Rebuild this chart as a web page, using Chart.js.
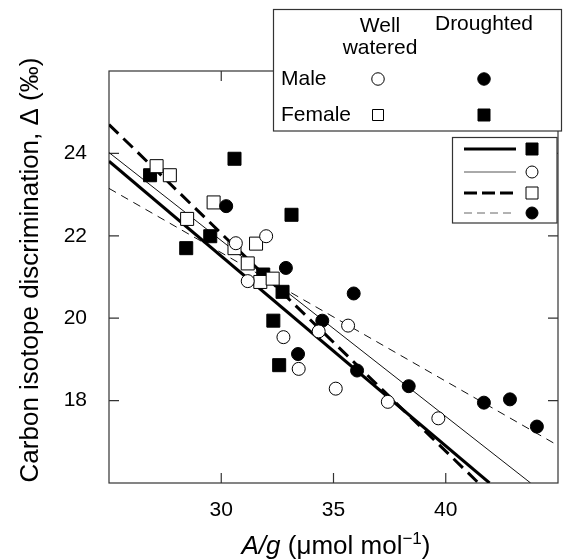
<!DOCTYPE html>
<html>
<head>
<meta charset="utf-8">
<script src="https://cdn.jsdelivr.net/npm/chart.js@4.4.0/dist/chart.umd.min.js"></script>
<style>
  body { margin: 0; background: #fff; }
  #wrap { width: 563px; height: 560px; }
</style>
</head>
<body>
<div id="wrap"><canvas id="chart" width="563" height="560"></canvas></div>
<script>
// values
const maleWellX = [30.65, 32.0, 31.18, 32.77, 34.34, 35.65, 33.45, 35.10, 37.42, 39.67];
const maleWellY = [21.82, 21.99, 20.90, 19.54, 19.68, 19.82, 18.77, 18.29, 17.97, 17.57];

const maleDroughtX = [30.22, 32.88, 35.90, 34.50, 33.42, 36.05, 38.35, 41.70, 42.86, 44.06];
const maleDroughtY = [22.72, 21.22, 20.60, 19.94, 19.13, 18.73, 18.35, 17.95, 18.03, 17.37];

const femaleWellX = [27.12, 27.71, 29.66, 28.48, 30.59, 31.55, 31.18, 31.74, 32.29];
const femaleWellY = [23.69, 23.47, 22.81, 22.41, 21.70, 21.81, 21.33, 20.88, 20.96];

const femaleDroughtX = [26.83, 30.59, 33.13, 29.51, 28.44, 31.87, 32.73, 32.32, 32.58];
const femaleDroughtY = [23.47, 23.87, 22.51, 21.99, 21.70, 21.06, 20.64, 19.94, 18.86];

// regression line end points
const fitFemaleDroughtX = [25, 41.95], fitFemaleDroughtY = [23.81, 16];
const fitMaleWellX = [25, 43.78], fitMaleWellY = [24.02, 16];
const fitFemaleWellX = [25, 41.46], fitFemaleWellY = [24.70, 16];
const fitMaleDroughtX = [25, 45], fitMaleDroughtY = [23.15, 16.91];

const xTicks = [30, 35, 40];
const yTicks = [18, 20, 22, 24];

const FONT = "'Liberation Sans', Arial, Helvetica, sans-serif";

const pts = (xs, ys) => xs.map((x, i) => ({ x: x, y: ys[i] }));

function pointSet(xs, ys, style, filled) {
  return {
    data: pts(xs, ys),
    pointStyle: style,
    pointRadius: style === 'rect' ? 9.2 : 6.5,
    pointBackgroundColor: filled ? '#000' : '#fff',
    pointBorderColor: '#000',
    pointBorderWidth: 1,
    showLine: false,
    order: 0
  };
}

function lineSet(xs, ys, width, dash, color) {
  return {
    data: pts(xs, ys),
    showLine: true,
    pointRadius: 0,
    borderColor: color,
    borderWidth: width,
    borderDash: dash,
    fill: false,
    order: 1
  };
}

function drawMarker(ctx, type, filled, x, y, size) {
  ctx.save();
  ctx.lineWidth = 1;
  ctx.strokeStyle = '#000';
  ctx.fillStyle = filled ? '#000' : '#fff';
  ctx.beginPath();
  if (type === 'circle') {
    ctx.arc(x, y, size / 2, 0, Math.PI * 2);
  } else {
    ctx.rect(x - size / 2, y - size / 2, size, size);
  }
  ctx.fill();
  ctx.stroke();
  ctx.restore();
}

const framePlugin = {
  id: 'frame',
  beforeDatasetsDraw(chart) {
    const { ctx, chartArea: a, scales } = chart;
    ctx.save();
    ctx.strokeStyle = '#333';
    ctx.lineWidth = 1.2;
    ctx.strokeRect(a.left, a.top, a.right - a.left, a.bottom - a.top);
    ctx.beginPath();
    const tl = 10;
    xTicks.forEach(v => {
      const px = scales.x.getPixelForValue(v);
      ctx.moveTo(px, a.bottom); ctx.lineTo(px, a.bottom - tl);
      ctx.moveTo(px, a.top); ctx.lineTo(px, a.top + tl);
    });
    yTicks.forEach(v => {
      const py = scales.y.getPixelForValue(v);
      ctx.moveTo(a.left, py); ctx.lineTo(a.left + tl, py);
      ctx.moveTo(a.right, py); ctx.lineTo(a.right - tl, py);
    });
    ctx.stroke();
    ctx.restore();
  },
  afterDraw(chart) {
    const { ctx } = chart;
    ctx.save();
    ctx.fillStyle = '#000';

    // y title
    ctx.save();
    ctx.translate(31, 270);
    ctx.rotate(-Math.PI / 2);
    ctx.font = '26px ' + FONT;
    ctx.textAlign = 'center';
    ctx.textBaseline = 'middle';
    ctx.fillText('Carbon isotope discrimination, \u0394 (\u2030)', 0, 0);
    ctx.restore();

    // x title: A/g (μmol mol−1)
    const base = 554;
    const parts = [
      { t: 'A/g', f: 'italic 26px ' + FONT, dy: 0 },
      { t: ' (\u03bcmol mol', f: '26px ' + FONT, dy: 0 },
      { t: '\u22121', f: '17px ' + FONT, dy: -10 },
      { t: ')', f: '26px ' + FONT, dy: 0 }
    ];
    let total = 0;
    parts.forEach(p => { ctx.font = p.f; p.w = ctx.measureText(p.t).width; total += p.w; });
    let cx = 336 - total / 2;
    ctx.textAlign = 'left';
    ctx.textBaseline = 'alphabetic';
    parts.forEach(p => { ctx.font = p.f; ctx.fillText(p.t, cx, base + p.dy); cx += p.w; });

    // marker key box
    ctx.fillStyle = '#fff';
    ctx.fillRect(273.5, 9.5, 288, 121.5);
    ctx.strokeStyle = '#333';
    ctx.lineWidth = 1.2;
    ctx.strokeRect(273.5, 9.5, 288, 121.5);
    ctx.fillStyle = '#000';
    ctx.font = '21px ' + FONT;
    ctx.textAlign = 'center';
    ctx.textBaseline = 'middle';
    ctx.fillText('Well', 380, 26);
    ctx.fillText('watered', 380, 48);
    ctx.fillText('Droughted', 484, 24);
    ctx.textAlign = 'left';
    ctx.fillText('Male', 281, 79);
    ctx.fillText('Female', 281, 115);
    drawMarker(ctx, 'circle', false, 378, 79, 12.5);
    drawMarker(ctx, 'circle', true, 484, 79, 12.5);
    drawMarker(ctx, 'rect', false, 378, 115, 11);
    drawMarker(ctx, 'rect', true, 484, 115, 12);

    // line key box
    ctx.fillStyle = '#fff';
    ctx.fillRect(452.5, 137.5, 104.5, 85.5);
    ctx.strokeRect(452.5, 137.5, 104.5, 85.5);
    const rows = [
      { y: 149, w: 2.8, dash: [], c: '#000', m: 'rect', f: true },
      { y: 172, w: 1, dash: [], c: '#555', m: 'circle', f: false },
      { y: 193, w: 2.8, dash: [13, 5], c: '#000', m: 'rect', f: false },
      { y: 213, w: 1, dash: [8, 5], c: '#666', m: 'circle', f: true }
    ];
    rows.forEach(r => {
      ctx.save();
      ctx.strokeStyle = r.c;
      ctx.lineWidth = r.w;
      ctx.setLineDash(r.dash);
      ctx.beginPath();
      ctx.moveTo(464, r.y); ctx.lineTo(516, r.y);
      ctx.stroke();
      ctx.restore();
      drawMarker(ctx, r.m, r.f, 532, r.y, 12);
    });
    ctx.restore();
  }
};

new Chart(document.getElementById('chart'), {
  type: 'scatter',
  data: {
    datasets: [
      pointSet(maleWellX, maleWellY, 'circle', false),
      pointSet(maleDroughtX, maleDroughtY, 'circle', true),
      pointSet(femaleWellX, femaleWellY, 'rect', false),
      pointSet(femaleDroughtX, femaleDroughtY, 'rect', true),
      lineSet(fitFemaleDroughtX, fitFemaleDroughtY, 3, [], '#000'),
      lineSet(fitMaleWellX, fitMaleWellY, 1, [], '#111'),
      lineSet(fitFemaleWellX, fitFemaleWellY, 3, [13, 7], '#000'),
      lineSet(fitMaleDroughtX, fitMaleDroughtY, 1, [8, 6], '#111')
    ]
  },
  options: {
    responsive: false,
    animation: false,
    layout: { autoPadding: false, padding: { top: 71, right: 5, left: 0, bottom: 0 } },
    plugins: { legend: { display: false }, tooltip: { enabled: false } },
    scales: {
      x: {
        type: 'linear', min: 25, max: 45,
        grid: { display: false }, border: { display: false },
        afterFit: s => { s.height = 77; s.paddingLeft = 0; s.paddingRight = 0; },
        ticks: {
          stepSize: 5, padding: 7, color: '#000',
          font: { family: FONT, size: 21 },
          callback: v => xTicks.includes(v) ? String(v) : ''
        }
      },
      y: {
        type: 'linear', min: 16, max: 26,
        grid: { display: false }, border: { display: false },
        afterFit: s => { s.width = 109; s.paddingTop = 0; s.paddingBottom = 0; },
        ticks: {
          stepSize: 2, padding: 14, color: '#000',
          font: { family: FONT, size: 21 },
          callback: v => yTicks.includes(v) ? String(v) : ''
        }
      }
    }
  },
  plugins: [framePlugin]
});
</script>
</body>
</html>
